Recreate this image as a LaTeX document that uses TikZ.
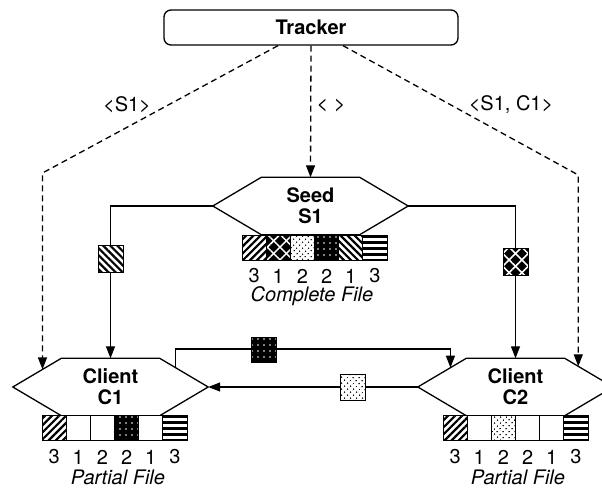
\documentclass[tikz,border=0pt]{standalone}
\usepackage{fontspec}
\setmainfont{TeX Gyre Heros}
\usetikzlibrary{arrows.meta,patterns.meta,calc}
\newcommand\hexoutline[1]{%
  \draw[hexline] (#1.west) -- ([xshift=48.5pt]#1.north west) coordinate (#1-nw)
    -- ([xshift=-48.5pt]#1.north east) coordinate (#1-ne) -- (#1.east)
    -- ([xshift=-48.5pt]#1.south east) -- ([xshift=48.5pt]#1.south west) -- cycle;}
\begin{document}
\begin{tikzpicture}[x=1pt,y=-1pt,
  font=\fontsize{20}{21}\selectfont,
  ln/.style={line width=1.3pt},
  tip/.style={-{Triangle[length=12pt,width=9pt]}},
  dsh/.style={ln, dash pattern=on 6pt off 4pt},
  hexnode/.style={minimum width=195pt, minimum height=57pt, inner sep=0pt, align=center,
    font=\fontsize{20}{21}\selectfont\bfseries},
  hexline/.style={line width=1.3pt, line join=miter},
  cell/.style={draw, line width=1pt, minimum width=24.17pt, minimum height=25pt, inner sep=0pt},
  blk/.style={draw, line width=1pt, minimum width=25pt, minimum height=27pt, inner sep=0pt},
  pE/.style={fill=white},
  pNE/.style={preaction={fill=white}, pattern={Lines[angle=45,distance=5pt,line width=2.2pt]}, pattern color=black},
  pNW/.style={preaction={fill=white}, pattern={Lines[angle=-45,distance=5pt,line width=2.2pt]}, pattern color=black},
  pHZ/.style={preaction={fill=white}, pattern={Lines[angle=0,distance=6pt,line width=3pt]}, pattern color=black},
  pX/.style={preaction={fill=black}, pattern={Lines[angle=45,distance=9pt,line width=1.5pt]}, pattern color=white,
    postaction={pattern={Lines[angle=-45,distance=9pt,line width=1.5pt]}, pattern color=white},
    postaction={draw=black}},
  pBD/.style={preaction={fill=black}, pattern={Dots[distance=6pt,radius=0.9pt]}, pattern color=white},
  pLD/.style={preaction={fill=white}, pattern={Dots[angle=45,distance=4pt,radius=0.8pt]}, pattern color=black},
]
\useasboundingbox (0,0) rectangle (602,489);

% Tracker
\node[draw, ln, rounded corners=7pt, minimum width=294pt, minimum height=35pt,
  font=\fontsize{20}{21}\selectfont\bfseries] (tracker) at (311,27.5) {Tracker};

% peers
\node[hexnode] (seed) at (310.5,206) {Seed\\S1};
\node[hexnode] (c1) at (110.5,387) {Client\\C1};
\node[hexnode] (c2) at (515.5,387) {Client\\C2};
\hexoutline{seed}
\hexoutline{c1}
\hexoutline{c2}

% edge points
\coordinate (c1-eL) at ($(c1.west)!0.612!(c1-nw)$);
\coordinate (c1-eR) at ($(c1.east)!0.673!(c1-ne)$);
\coordinate (c2-eL) at ($(c2.west)!0.673!(c2-nw)$);
\coordinate (c2-eR) at ($(c2.east)!0.72!(c2-ne)$);
\coordinate (yl) at (0,173);
\coordinate (yr) at (0,175);
\coordinate (ym) at (0,349);

% file strips
\foreach \st [count=\i] in {pNE,pX,pLD,pBD,pNW,pHZ}
  \node[cell,\st] (sc\i) at ({242+24.17*(\i-0.5)},247.5) {};
\foreach \n [count=\i] in {3,1,2,2,1,3}
  \node (sn\i) at ({242+24.17*(\i-0.5)},276) {\n};
\node (slab) at (312,296) {\itshape Complete File};

\foreach \st [count=\i] in {pNE,pE,pE,pBD,pE,pHZ}
  \node[cell,\st] (ac\i) at ({42+24.17*(\i-0.5)},428) {};
\foreach \n [count=\i] in {3,1,2,2,1,3}
  \node (an\i) at ({42+24.17*(\i-0.5)},457) {\n};
\node (alab) at (118,477) {\itshape Partial File};

\foreach \st [count=\i] in {pNE,pE,pLD,pE,pE,pHZ}
  \node[cell,\st] (bc\i) at ({443+24.17*(\i-0.5)},428) {};
\foreach \n [count=\i] in {3,1,2,2,1,3}
  \node (bn\i) at ({443+24.17*(\i-0.5)},457) {\n};
\node (blab) at (518,477) {\itshape Partial File};

% tracker messages
\draw[dsh,tip] (tracker.south) -- (seed.north);
\draw[dsh,tip] ([xshift=-33pt]tracker.south) -- (c1-eL |- yl) -- (c1-eL);
\draw[dsh,tip] ([xshift=32pt]tracker.south) -- (c2-eR |- yr) -- (c2-eR);
\node (l1) at (127,105) {<S1>};
\node (l2) at (331,106) {< >};
\node (l3) at (511,105) {<S1, C1>};

% piece transfers
\draw[ln,tip] (seed.west) -| (c1.north);
\draw[ln,tip] (seed.east) -| (c2.north);
\draw[ln,tip] (c1-eR) -- (c1-eR |- ym) -- (c2-eL |- ym) -- (c2-eL);
\draw[ln,tip] (c2.west) -- (c1.east);

% pieces in transit
\node[blk,pNW] (b1) at (110.5,258.5) {};
\node[blk,pX] (b2) at (515.5,261.5) {};
\node[blk,pBD,minimum height=25pt] (b3) at (263.5,349.5) {};
\node[blk,pLD,minimum height=26pt] (b4) at (353,387) {};
\end{tikzpicture}
\end{document}
